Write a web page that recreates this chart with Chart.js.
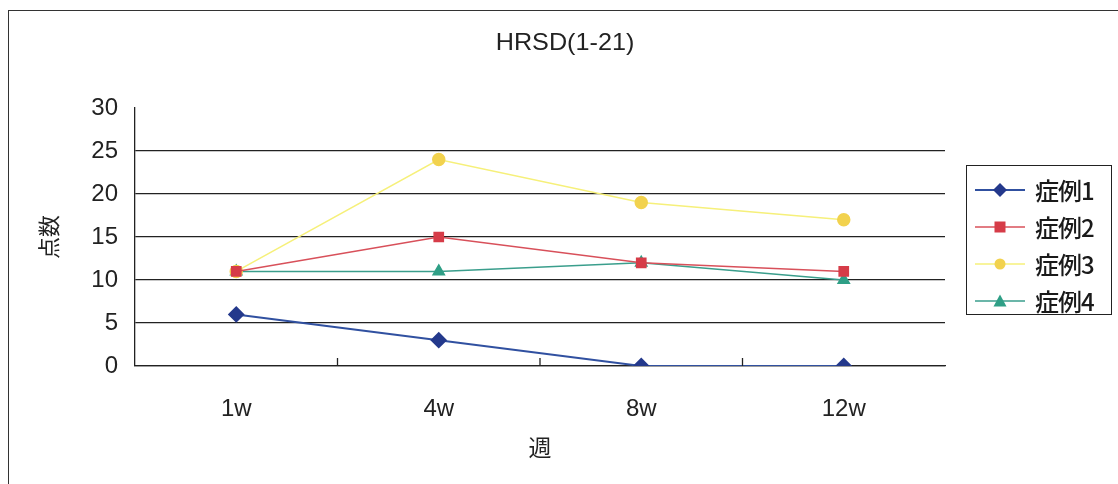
<!DOCTYPE html>
<html>
<head>
<meta charset="utf-8">
<script src="https://cdn.jsdelivr.net/npm/chart.js@4.4.1/dist/chart.umd.min.js"></script>
<style>
  body { margin: 0; background: #fff; }
  #wrap { position: relative; width: 1118px; height: 484px; }
  #frame { position: absolute; left: 8px; top: 10px; width: 1110px; height: 480px;
           border-left: 1.5px solid #333; border-top: 1.5px solid #333; }
  #title { position: absolute; left: 465px; top: 28px; width: 200px; text-align: center;
           font-family: "Liberation Sans"; font-size: 24px; color: #222; transform: scaleX(1.05); }
  #legend { position: absolute; left: 966px; top: 165px; width: 146px; height: 150px;
            border: 1.5px solid #222; box-sizing: border-box; padding-top: 5px; }
  .item { height: 37px; display: flex; align-items: center; font-family: "Noto Sans CJK JP";
          font-size: 24px; font-weight: 500; color: #1a1a1a; letter-spacing: -1px; }
  .item svg { margin-left: 8px; margin-right: 10px; flex: none; }
</style>
</head>
<body>
<div id="wrap">
  <div id="frame"></div>
  <canvas id="myChart" width="1118" height="484"></canvas>
  <div id="title">HRSD(1-21)</div>
  <div id="legend"></div>
</div>
<script>
const weeks = ['1w', '4w', '8w', '12w'];
const seriesNames = ['症例1', '症例2', '症例3', '症例4'];
const case1 = [6, 3, 0, 0];
const case2 = [11, 15, 12, 11];
const case3 = [11, 24, 19, 17];
const case4 = [11, 11, 12, 10];
const yTicks = [0, 5, 10, 15, 20, 25, 30];

const lineColors = ['#3050a0', '#d8505a', '#f6f07a', '#3a9e8c'];
const markColors = ['#24398c', '#d63c48', '#f2d24e', '#2f9f86'];
const styles = ['rectRot', 'rect', 'circle', 'triangle'];
const sizes = [7, 6.5, 6, 6.5];
const values = [case1, case2, case3, case4];

chartIt();
function chartIt(){
    const ctx = document.getElementById('myChart').getContext('2d');

    // small upward tick marks between the categories
    const catTicks = {
        id: 'catTicks',
        afterDraw(chart){
            const x = chart.scales.x, c = chart.ctx;
            const bottom = chart.chartArea.bottom;
            c.save();
            c.strokeStyle = '#222';
            c.lineWidth = 1.3;
            for (let i = 0; i < weeks.length - 1; i++){
                const px = (x.getPixelForValue(i) + x.getPixelForValue(i + 1)) / 2;
                c.beginPath();
                c.moveTo(px, bottom);
                c.lineTo(px, bottom - 8);
                c.stroke();
            }
            c.restore();
        }
    };

    const myChart = new Chart(ctx, {
        type: 'line',
        data: {
            labels: weeks,
            datasets: values.map((v, i) => ({
                label: seriesNames[i],
                data: v,
                borderColor: lineColors[i],
                backgroundColor: markColors[i],
                pointBorderColor: markColors[i],
                pointBackgroundColor: markColors[i],
                pointStyle: styles[i],
                pointRadius: sizes[i],
                borderWidth: i === 0 ? 2 : 1.5,
                tension: 0
            }))
        },
        options: {
            responsive: false,
            animation: false,
            layout: { padding: { left: 0, right: 173, top: 108, bottom: 0 } },
            plugins: {
                legend: { display: false },
                tooltip: { enabled: false }
            },
            scales: {
                x: {
                    offset: true,
                    grid: { display: false },
                    border: { color: '#222', width: 1.3 },
                    ticks: { color: '#222', padding: 21, font: { family: 'Liberation Sans', size: 24 } },
                    title: {
                        display: true, text: '週', color: '#222',
                        font: { family: 'Noto Sans CJK JP', size: 23 },
                        padding: { top: 6, bottom: 23 }
                    },
                    afterFit(s){ s.height = 118; }
                },
                y: {
                    min: 0, max: 30,
                    afterBuildTicks(s){ s.ticks = yTicks.map(v => ({ value: v })); },
                    grid: {
                        color: c => c.tick && c.tick.value === 30 ? 'rgba(0,0,0,0)' : '#222',
                        lineWidth: 1.3,
                        drawTicks: false
                    },
                    border: { color: '#222', width: 1.3 },
                    ticks: { color: '#222', padding: 17, font: { family: 'Liberation Sans', size: 24 } },
                    title: {
                        display: true, text: '点数', color: '#222',
                        font: { family: 'Noto Sans CJK JP', size: 22 },
                        padding: { top: 35, bottom: 0 }
                    },
                    afterFit(s){ s.width = 135; }
                }
            }
        },
        plugins: [catTicks]
    });

    // legend: line with marker, built from the datasets
    const lg = document.getElementById('legend');
    myChart.data.datasets.forEach((ds, i) => {
        let mark = '';
        if (ds.pointStyle === 'rectRot') mark = '<polygon points="25,1 32,8 25,15 18,8" fill="' + ds.pointBackgroundColor + '"/>';
        if (ds.pointStyle === 'rect') mark = '<rect x="19.5" y="2.5" width="11" height="11" fill="' + ds.pointBackgroundColor + '"/>';
        if (ds.pointStyle === 'circle') mark = '<circle cx="25" cy="8" r="5.5" fill="' + ds.pointBackgroundColor + '"/>';
        if (ds.pointStyle === 'triangle') mark = '<polygon points="25,1.5 31.5,13.5 18.5,13.5" fill="' + ds.pointBackgroundColor + '"/>';
        const row = document.createElement('div');
        row.className = 'item';
        row.innerHTML = '<svg width="50" height="16"><line x1="0" y1="8" x2="50" y2="8" stroke="' +
            ds.borderColor + '" stroke-width="' + ds.borderWidth + '"/>' + mark + '</svg>' + ds.label;
        lg.appendChild(row);
    });
}
</script>
</body>
</html>
